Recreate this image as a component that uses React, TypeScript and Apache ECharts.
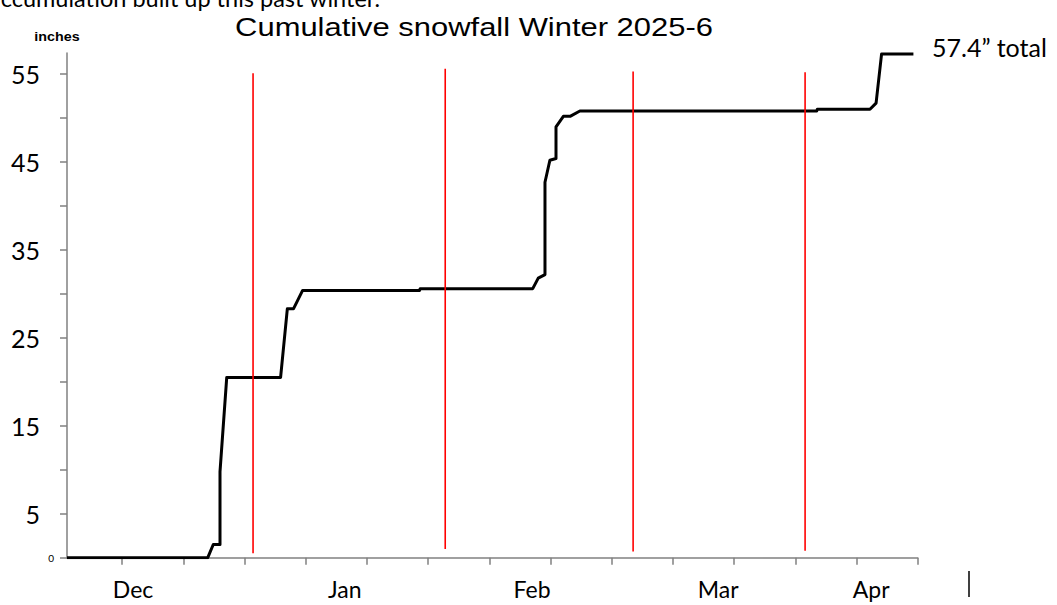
import React, { useEffect, useRef } from "react";
import * as echarts from "echarts";

// x in "days" from the start of the plotted period, y in inches
const snowX = [0, 23.0, 23.9, 25.0, 25.0, 26.1, 34.9, 36.0, 37.0, 38.5, 57.6, 57.7, 76.1, 77.0, 78.1, 78.1, 78.9, 79.9, 79.9, 81.1, 82.2, 83.8, 122.5, 122.6, 131.2, 132.2, 133.1, 138.3];
const snowY = [0, 0, 1.5, 1.5, 9.8, 20.5, 20.5, 28.3, 28.3, 30.4, 30.4, 30.6, 30.6, 31.8, 32.2, 42.7, 45.2, 45.4, 49.0, 50.2, 50.2, 50.8, 50.8, 51.0, 51.0, 51.7, 57.3, 57.3];

const redX = [30.4, 61.8, 92.5, 120.6];
const redTop = [55.1, 55.6, 55.3, 55.2];
const redBottom = [0.5, 1.0, 0.7, 0.8];

const monthNames = ["Dec", "Jan", "Feb", "Mar", "Apr"];
const monthPos = [10.8, 45.4, 76.0, 106.4, 131.4];
const xTicks = [9, 19, 29, 39, 49, 59, 69, 79, 89, 99, 109, 119, 129, 139];
const yTicks = [0, 5, 10, 15, 20, 25, 30, 35, 40, 45, 50, 55];
const yLabels = [0, 5, 15, 25, 35, 45, 55];

const X_MAX = 139;
const Y_MAX = 57.4;

export default function App() {
  const ref = useRef<HTMLDivElement>(null);
  useEffect(() => {
    if (!ref.current) return;
    const chart = echarts.init(ref.current, null, { renderer: "svg" });
    const labelFont = "Lato, 'Open Sans', sans-serif";
    const series: any[] = [
      {
        type: "line",
        data: snowX.map((x, i) => [x, snowY[i]]),
        showSymbol: false,
        symbol: "none",
        lineStyle: { color: "#000", width: 3, join: "round" },
        z: 3,
      },
    ];
    redX.forEach((x, i) => {
      series.push({
        type: "line",
        data: [
          [x, redBottom[i]],
          [x, redTop[i]],
        ],
        symbol: "none",
        lineStyle: { color: "#ff0000", width: 1.6 },
        z: 4,
      });
    });
    chart.setOption({
      animation: false,
      backgroundColor: "#fff",
      grid: { left: 67, right: 139.3, top: 53, bottom: 47.3, containLabel: false },
      xAxis: {
        type: "value",
        min: 0,
        max: X_MAX,
        splitLine: { show: false },
        axisLine: { show: true, lineStyle: { color: "#808080", width: 1.5 } },
        axisTick: {
          show: true,
          length: 7,
          customValues: xTicks,
          lineStyle: { color: "#808080", width: 1.5 },
        },
        axisLabel: {
          customValues: monthPos,
          margin: 20,
          fontFamily: labelFont,
          fontSize: 23,
          color: "#000",
          formatter: (v: number) => {
            const i = monthPos.findIndex((p) => Math.abs(p - v) < 0.01);
            return i >= 0 ? monthNames[i] : "";
          },
        },
      },
      yAxis: {
        type: "value",
        min: 0,
        max: Y_MAX,
        splitLine: { show: false },
        axisLine: { show: true, lineStyle: { color: "#808080", width: 1.5 } },
        axisTick: {
          show: true,
          length: 7,
          customValues: yTicks,
          lineStyle: { color: "#808080", width: 1.5 },
        },
        axisLabel: {
          customValues: yLabels,
          margin: 13,
          color: "#000",
          fontFamily: labelFont,
          formatter: (v: number) => (v === 0 ? "{s|0}" : "{b|" + v + "}"),
          rich: {
            s: { fontSize: 10, fontFamily: labelFont, color: "#000" },
            b: { fontSize: 25, fontFamily: labelFont, color: "#000", padding: [0, 14, 0, 0] },
          },
        },
      },
      graphic: [
        {
          type: "text",
          left: -11,
          top: -14,
          style: {
            text: "accumulation built up this past winter.",
            fontFamily: labelFont,
            fontSize: 23.5,
            fill: "#000",
          },
        },
        {
          type: "text",
          x: 474,
          y: 27,
          scaleX: 1.19,
          style: {
            text: "Cumulative snowfall Winter 2025-6",
            fontFamily: "'Liberation Sans', Arial, sans-serif",
            fontSize: 26,
            fill: "#000",
            align: "center",
            verticalAlign: "middle",
          },
        },
        {
          type: "text",
          x: 57,
          y: 37,
          scaleX: 1.1,
          style: {
            text: "inches",
            fontFamily: "'Liberation Sans', Arial, sans-serif",
            fontWeight: "bold",
            fontSize: 13,
            fill: "#000",
            align: "center",
            verticalAlign: "middle",
          },
        },
        {
          type: "text",
          x: 932,
          y: 47,
          style: {
            text: "57.4\u201D total",
            fontFamily: labelFont,
            fontSize: 25,
            fill: "#000",
            align: "left",
            verticalAlign: "middle",
          },
        },
        {
          type: "line",
          shape: { x1: 969, y1: 571, x2: 969, y2: 597 },
          style: { stroke: "#000", lineWidth: 1.5 },
        },
      ],
      series,
    });
    return () => chart.dispose();
  }, []);
  return (
    <div
      ref={ref}
      style={{ position: "fixed", left: 0, top: 0, width: 1057, height: 605, background: "#fff" }}
    />
  );
}
